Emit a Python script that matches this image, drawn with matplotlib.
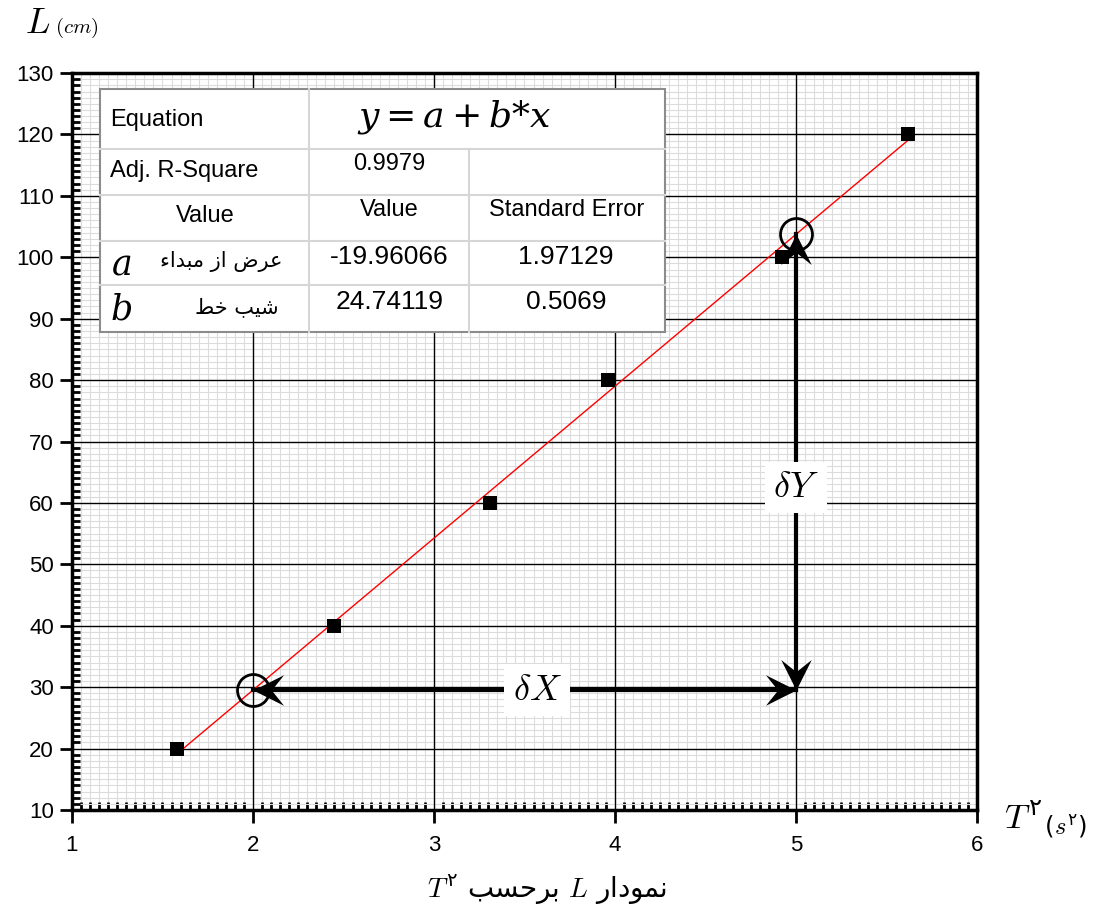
import numpy as np
import matplotlib.pyplot as plt
from matplotlib.markers import MarkerStyle
from matplotlib.path import Path
from matplotlib.patches import Rectangle
from matplotlib.ticker import MultipleLocator
from matplotlib.transforms import Affine2D

plt.rcParams['font.family'] = ['Liberation Sans', 'DejaVu Sans']
# 'custom' math font: CM italic letters, DejaVu Sans for the Persian digits
plt.rcParams['mathtext.rm'] = 'DejaVu Sans'
plt.rcParams['mathtext.it'] = 'cmmi10'

# measured points: T^2 (s^2) and pendulum length L (cm)
t_sq = [1.58, 2.45, 3.31, 3.96, 4.92, 5.62]
length = [20, 40, 60, 80, 100, 120]

# least squares fit  y = a + b*x
fit_a = -19.96066
fit_b = 24.74119
fit_a_err = 1.97129
fit_b_err = 0.5069
adj_r2 = 0.9979

# two points picked on the line to read the slope
pick_x = [2, 5]
# where the delta labels sit along the arrows
dx_label_x = 3.57
dy_label_y = 62.5

# persian strings (presentation forms, left-to-right visual order)
fa_intercept = '\uFE80\uFE8D\uFEAA\uFE92\uFEE3 \uFEAF\uFE8D \uFEBD\uFEAE\uFECB'
fa_slope = '\uFEC2\uFEA7 \uFE90\uFEF4\uFEB7'
fa_versus = '\uFE90\uFEB4\uFEA3\uFEAE\uFE91'
fa_graph = '\uFEAD\uFE8D\uFEA9\uFEEE\uFEE4\uFEE7'
fa_two = '\u06F2'


def fit(x):
    return fit_a + fit_b * np.asarray(x, dtype=float)


# concave arrow head, tip at the origin, pointing along +x
head_path = Path([(0, 0), (-1, 0.5), (-0.6, 0), (-1, -0.5), (0, 0)],
                 [Path.MOVETO, Path.LINETO, Path.LINETO, Path.LINETO,
                  Path.CLOSEPOLY])


def head(angle):
    return MarkerStyle(head_path, transform=Affine2D().rotate_deg(angle))


fig = plt.figure(figsize=(10.99, 9.08), dpi=100)
ax = fig.add_axes([0.0655, 0.108, 0.8235, 0.8115])

ax.set_xlim(1, 6)
ax.set_ylim(10, 130)
ax.xaxis.set_major_locator(MultipleLocator(1))
ax.xaxis.set_minor_locator(MultipleLocator(0.05))
ax.yaxis.set_major_locator(MultipleLocator(10))
ax.yaxis.set_minor_locator(MultipleLocator(1))
ax.set_axisbelow(True)
ax.grid(which='minor', color='#dcdcdc', lw=0.8)
# major grid drawn as lines so the light minor grid never crosses over it
for x in ax.get_xticks():
    ax.axvline(x, color='black', lw=1.0, zorder=1)
for y in ax.get_yticks():
    ax.axhline(y, color='black', lw=1.0, zorder=1)
ax.tick_params(which='major', direction='out', length=9, width=2,
               labelsize=16, pad=4)
ax.tick_params(axis='x', which='major', pad=9)
ax.tick_params(which='minor', direction='in', length=6, width=2)
for s in ax.spines.values():
    s.set_linewidth(2.5)

# data and fitted line
xs = np.array([min(t_sq), max(t_sq)])
ax.plot(xs, fit(xs), color='red', lw=1.0, zorder=3)
ax.plot(t_sq, length, 's', color='black', ms=10, mew=0, zorder=4)

# slope triangle: dX and dY arrows between the two picked points
y0, y1 = fit(pick_x)
ax.plot(pick_x, [y0, y0], color='black', lw=3, zorder=4)
ax.plot([pick_x[1], pick_x[1]], [y0, y1], color='black', lw=3, zorder=4)
ax.plot([pick_x[0]], [y0], marker=head(180), ms=44, color='black', mew=0, zorder=5)
ax.plot([pick_x[1]], [y0], marker=head(0), ms=44, color='black', mew=0, zorder=5)
ax.plot([pick_x[1]], [y0], marker=head(-90), ms=44, color='black', mew=0, zorder=5)
ax.plot([pick_x[1]], [y1], marker=head(90), ms=44, color='black', mew=0, zorder=5)
ax.plot(pick_x, fit(pick_x), 'o', ms=23, mfc='none', mec='black', mew=2,
        zorder=6)
box = dict(fc='white', ec='none', pad=6)
ax.text(dx_label_x, y0, r'$\delta X$', fontsize=26, ha='center', va='center',
        math_fontfamily='cm', bbox=box, zorder=5)
ax.text(pick_x[1], dy_label_y, r'$\delta Y$', fontsize=26, ha='center',
        va='center', math_fontfamily='cm', bbox=box, zorder=5)

# fit results table
cols = [0.031, 0.262, 0.439, 0.655]
rows = [0.978, 0.897, 0.834, 0.772, 0.712, 0.648]
T = ax.transAxes
ax.add_patch(Rectangle((cols[0], rows[-1]), cols[-1] - cols[0],
                       rows[0] - rows[-1], transform=T, fc='white',
                       ec='#8c8c8c', lw=1.5, zorder=7))
for y in rows[1:-1]:
    ax.plot([cols[0], cols[-1]], [y, y], transform=T, color='#d6d6d6',
            lw=1.5, zorder=8)
ax.plot([cols[1], cols[1]], [rows[0], rows[-1]], transform=T,
        color='#d6d6d6', lw=1.5, zorder=8)
ax.plot([cols[2], cols[2]], [rows[1], rows[-1]], transform=T,
        color='#d6d6d6', lw=1.5, zorder=8)

kw = dict(transform=T, zorder=9, va='center')
ax.text(0.042, 0.936, 'Equation', fontsize=17, ha='left', **kw)
ax.text(0.422, 0.940, r'$y = a + b{*}x$', fontsize=26, ha='center',
        math_fontfamily='dejavuserif', **kw)
ax.text(0.042, 0.867, 'Adj. R-Square', fontsize=17, ha='left', **kw)
ax.text(0.351, 0.876, f'{adj_r2}', fontsize=17, ha='center', **kw)
ax.text(0.147, 0.806, 'Value', fontsize=17, ha='center', **kw)
ax.text(0.351, 0.814, 'Value', fontsize=17, ha='center', **kw)
ax.text(0.546, 0.814, 'Standard Error', fontsize=17, ha='center', **kw)
ax.text(0.054, 0.740, r'$a$', fontsize=25, ha='center',
        math_fontfamily='dejavuserif', **kw)
ax.text(0.233, 0.744, fa_intercept, fontsize=15, ha='right',
        family='DejaVu Sans', **kw)
ax.text(0.351, 0.750, f'{fit_a:.5f}', fontsize=19, ha='center', **kw)
ax.text(0.546, 0.750, f'{fit_a_err:.5f}', fontsize=19, ha='center', **kw)
ax.text(0.054, 0.678, r'$b$', fontsize=25, ha='center',
        math_fontfamily='dejavuserif', **kw)
ax.text(0.228, 0.683, fa_slope, fontsize=15, ha='right',
        family='DejaVu Sans', **kw)
ax.text(0.351, 0.690, f'{fit_b:.5f}', fontsize=19, ha='center', **kw)
ax.text(0.546, 0.690, f'{fit_b_err}', fontsize=19, ha='center', **kw)

# axis titles
fig.text(0.023, 0.9637, r'$L$', fontsize=26, va='baseline',
         math_fontfamily='cm')
fig.text(0.050, 0.9637, r'$(cm)$', fontsize=15, va='baseline',
         math_fontfamily='cm')
fig.text(0.914, 0.086, r'$T^{' + fa_two + r'}{}_{(s^{' + fa_two + r'})}$',
         fontsize=25, va='baseline', ha='left', math_fontfamily='custom')
fig.text(0.498, 0.011,
         r'$T^{' + fa_two + r'}$ ' + fa_versus + r' $L$ ' + fa_graph,
         fontsize=20, ha='center', va='baseline', family='DejaVu Sans',
         math_fontfamily='custom')

fig.savefig('out.png', dpi=100)
